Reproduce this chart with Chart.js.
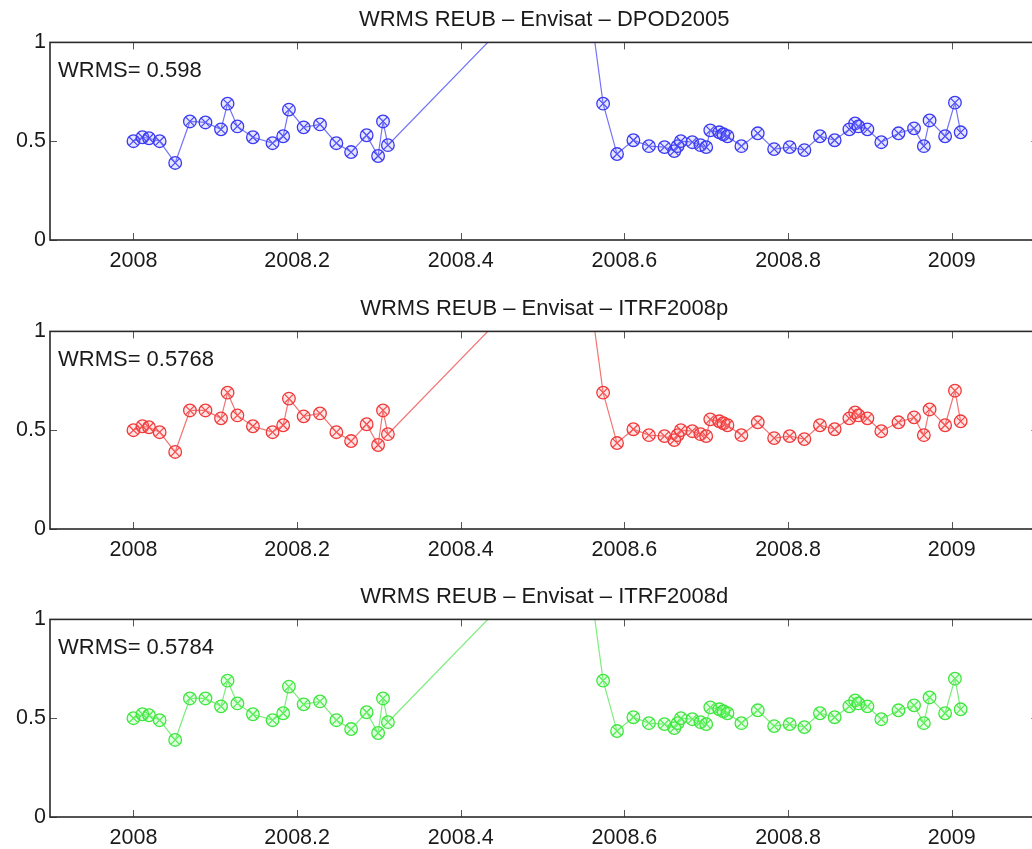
<!DOCTYPE html>
<html>
<head>
<meta charset="utf-8">
<script src="https://cdn.jsdelivr.net/npm/chart.js@4/dist/chart.umd.min.js"></script>
<style>
  html, body { margin: 0; padding: 0; background: #fff; overflow: hidden; }
  #wrap { position: relative; width: 1032px; height: 849px; overflow: hidden; }
  canvas { position: absolute; left: 0; }
</style>
</head>
<body>
<div id="wrap">
  <canvas id="p1" width="1046" height="289" style="top:0px"></canvas>
  <canvas id="p2" width="1046" height="289" style="top:289px"></canvas>
  <canvas id="p3" width="1046" height="289" style="top:577px"></canvas>
</div>
<script>
// Epochs (decimal years) of the weekly REUB residual solutions
const epochs = [2008.000, 2008.011, 2008.019, 2008.032, 2008.051, 2008.069, 2008.088, 2008.107,
  2008.115, 2008.127, 2008.146, 2008.170, 2008.183, 2008.190, 2008.208, 2008.228, 2008.248,
  2008.266, 2008.285, 2008.299, 2008.305, 2008.311, 2008.548, 2008.574, 2008.591, 2008.611,
  2008.630, 2008.649, 2008.661, 2008.665, 2008.669, 2008.683, 2008.693, 2008.700, 2008.705,
  2008.716, 2008.721, 2008.726, 2008.743, 2008.763, 2008.783, 2008.802, 2008.820, 2008.839,
  2008.857, 2008.875, 2008.882, 2008.886, 2008.897, 2008.914, 2008.935, 2008.954, 2008.966,
  2008.973, 2008.992, 2009.004, 2009.011];

// WRMS per epoch for each reference frame
const wrmsDPOD2005 = [0.50, 0.52, 0.515, 0.50, 0.39, 0.60, 0.595, 0.56, 0.69, 0.575, 0.52, 0.49,
  0.525, 0.66, 0.57, 0.585, 0.49, 0.445, 0.53, 0.425, 0.60, 0.48, 1.49, 0.69, 0.435, 0.505,
  0.475, 0.47, 0.45, 0.475, 0.50, 0.495, 0.48, 0.47, 0.555, 0.545, 0.535, 0.525, 0.475, 0.54,
  0.46, 0.47, 0.455, 0.525, 0.505, 0.56, 0.59, 0.575, 0.56, 0.495, 0.54, 0.565, 0.475, 0.605,
  0.525, 0.695, 0.545];
const wrmsITRF2008p = [0.50, 0.52, 0.515, 0.49, 0.39, 0.60, 0.60, 0.56, 0.69, 0.575, 0.52, 0.49,
  0.525, 0.66, 0.57, 0.585, 0.49, 0.445, 0.53, 0.425, 0.60, 0.48, 1.49, 0.69, 0.435, 0.505,
  0.475, 0.47, 0.45, 0.475, 0.50, 0.495, 0.48, 0.47, 0.555, 0.545, 0.535, 0.525, 0.475, 0.54,
  0.46, 0.47, 0.455, 0.525, 0.505, 0.56, 0.59, 0.575, 0.56, 0.495, 0.54, 0.565, 0.475, 0.605,
  0.525, 0.70, 0.545];
const wrmsITRF2008d = [0.50, 0.52, 0.515, 0.49, 0.39, 0.60, 0.60, 0.56, 0.69, 0.575, 0.52, 0.49,
  0.525, 0.66, 0.57, 0.585, 0.49, 0.445, 0.53, 0.425, 0.60, 0.48, 1.49, 0.69, 0.435, 0.505,
  0.475, 0.47, 0.45, 0.475, 0.50, 0.495, 0.48, 0.47, 0.555, 0.545, 0.535, 0.525, 0.475, 0.54,
  0.46, 0.47, 0.455, 0.525, 0.505, 0.56, 0.59, 0.575, 0.56, 0.495, 0.54, 0.565, 0.475, 0.605,
  0.525, 0.70, 0.545];

const panelTitles = ['WRMS REUB \u2013 Envisat \u2013 DPOD2005',
                     'WRMS REUB \u2013 Envisat \u2013 ITRF2008p',
                     'WRMS REUB \u2013 Envisat \u2013 ITRF2008d'];
const overallWrms = ['WRMS= 0.598', 'WRMS= 0.5768', 'WRMS= 0.5784'];

const xTickValues = [2008, 2008.2, 2008.4, 2008.6, 2008.8, 2009];
const yTickValues = [0, 0.5, 1];

const FONT = 'Liberation Sans, Arial, Helvetica, sans-serif';
const TEXT = '#1a1a1a';

// Box around the axes, inward tick marks and the overall WRMS annotation
const boxPlugin = {
  id: 'box',
  afterDraw(chart, args, opts) {
    const { ctx, chartArea: a, scales } = chart;
    ctx.save();
    ctx.strokeStyle = '#555';
    ctx.lineWidth = 1;
    const tl = 7;
    ctx.beginPath();
    scales.x.ticks.forEach(t => {
      const px = Math.round(scales.x.getPixelForValue(t.value)) + 0.5;
      ctx.moveTo(px, a.bottom); ctx.lineTo(px, a.bottom - tl);
      ctx.moveTo(px, a.top); ctx.lineTo(px, a.top + tl);
    });
    scales.y.ticks.forEach(t => {
      const py = Math.round(scales.y.getPixelForValue(t.value)) + 0.5;
      ctx.moveTo(a.left, py); ctx.lineTo(a.left + tl, py);
      ctx.moveTo(a.right, py); ctx.lineTo(a.right - tl, py);
    });
    ctx.stroke();
    ctx.strokeStyle = '#2a2a2a';
    ctx.lineWidth = 1.6;
    ctx.strokeRect(a.left, a.top, a.right - a.left, a.bottom - a.top);
    ctx.fillStyle = TEXT;
    ctx.font = '22px ' + FONT;
    ctx.textBaseline = 'alphabetic';
    ctx.textAlign = 'left';
    ctx.fillText(opts.label, a.left + 8, a.top + 35);
    ctx.restore();
  }
};

function makePanel(id, title, label, values, markColor, lineColor, fillColor) {
  const pts = epochs.map((t, i) => ({ x: t, y: values[i] }));
  new Chart(document.getElementById(id), {
    type: 'line',
    data: {
      datasets: [
        {
          data: pts,
          borderColor: lineColor,
          borderWidth: 1.2,
          pointStyle: 'circle',
          pointRadius: 6.3,
          pointBorderWidth: 1.3,
          pointBorderColor: markColor,
          pointBackgroundColor: fillColor,
          tension: 0
        },
        {
          data: pts,
          showLine: false,
          pointStyle: 'crossRot',
          pointRadius: 6,
          pointBorderWidth: 1.2,
          pointBorderColor: markColor,
          pointBackgroundColor: markColor
        }
      ]
    },
    options: {
      responsive: false,
      animation: false,
      events: [],
      layout: { padding: { left: 0, right: 7, top: 0, bottom: 0 } },
      plugins: {
        legend: { display: false },
        tooltip: { enabled: false },
        title: {
          display: true,
          text: title,
          fullSize: false,
          color: TEXT,
          font: { family: FONT, size: 22, weight: 'normal' },
          padding: { top: 7, bottom: 9 }
        },
        box: { label: label }
      },
      scales: {
        x: {
          type: 'linear',
          min: 2007.898,
          max: 2009.106,
          afterBuildTicks: s => { s.ticks = xTickValues.map(v => ({ value: v })); },
          afterFit: s => { s.height = 49; },
          grid: { display: false, drawTicks: false },
          border: { display: false },
          ticks: {
            padding: 8,
            color: TEXT,
            font: { family: FONT, size: 21.5 },
            maxRotation: 0,
            autoSkip: false,
            callback: v => String(v)
          }
        },
        y: {
          min: 0,
          max: 1,
          afterBuildTicks: s => { s.ticks = yTickValues.map(v => ({ value: v })); },
          afterFit: s => { s.width = 50; },
          grid: { display: false, drawTicks: false },
          border: { display: false },
          ticks: {
            padding: 4,
            color: TEXT,
            font: { family: FONT, size: 21.5 },
            callback: v => String(v)
          }
        }
      }
    },
    plugins: [boxPlugin]
  });
}

makePanel('p1', panelTitles[0], overallWrms[0], wrmsDPOD2005, '#3a3af2', 'rgba(90,90,245,0.85)', 'rgba(120,120,255,0.18)');
makePanel('p2', panelTitles[1], overallWrms[1], wrmsITRF2008p, '#f03a3a', 'rgba(240,90,90,0.85)', 'rgba(255,120,120,0.18)');
makePanel('p3', panelTitles[2], overallWrms[2], wrmsITRF2008d, '#3ee63e', 'rgba(110,235,110,0.9)', 'rgba(120,255,120,0.2)');
</script>
</body>
</html>
